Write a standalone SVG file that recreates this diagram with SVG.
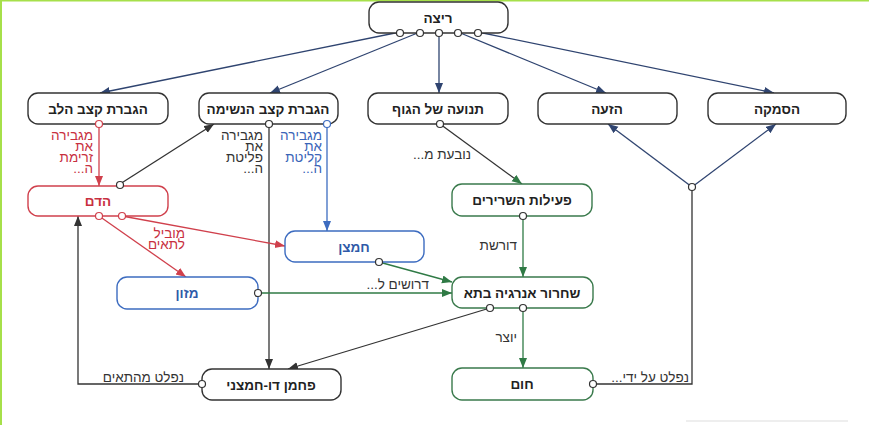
<svg xmlns="http://www.w3.org/2000/svg" width="869" height="425" viewBox="0 0 869 425">
<defs>
<style>
.node rect{fill:#fff;stroke-width:1.4}
.k rect{stroke:#333}
.r rect{stroke:#d0404c}
.b rect{stroke:#3d6cc0}
.g rect{stroke:#3a7a4c}
.node text{font-family:"Liberation Sans","DejaVu Sans",sans-serif;font-size:13.5px;font-weight:bold;text-anchor:middle;direction:rtl;fill:#222}
.r text{fill:#c83040}
.b text{fill:#2f5aa8}
.lbl{font-family:"Liberation Sans","DejaVu Sans",sans-serif;font-size:13.5px;direction:rtl;text-anchor:start;fill:#333}
.lr{fill:#c83040}.lb{fill:#3a64b8}
.c{fill:none;stroke-width:1.3}
.cn{stroke:#2f4470}.ck{stroke:#333}.cr{stroke:#d0404c}.cb{stroke:#3d6cc0}.cg{stroke:#2f7a45}
.p{fill:#fff;stroke-width:1.2}
</style>
<marker id="an" markerUnits="userSpaceOnUse" markerWidth="12" markerHeight="10" refX="10" refY="4" orient="auto"><path d="M0,0 L10,4 L0,8 z" fill="#2f4470"/></marker>
<marker id="ak" markerUnits="userSpaceOnUse" markerWidth="12" markerHeight="10" refX="10" refY="4" orient="auto"><path d="M0,0 L10,4 L0,8 z" fill="#333"/></marker>
<marker id="ar" markerUnits="userSpaceOnUse" markerWidth="12" markerHeight="10" refX="10" refY="4" orient="auto"><path d="M0,0 L10,4 L0,8 z" fill="#d0404c"/></marker>
<marker id="ab" markerUnits="userSpaceOnUse" markerWidth="12" markerHeight="10" refX="10" refY="4" orient="auto"><path d="M0,0 L10,4 L0,8 z" fill="#3d6cc0"/></marker>
<marker id="ag" markerUnits="userSpaceOnUse" markerWidth="12" markerHeight="10" refX="10" refY="4" orient="auto"><path d="M0,0 L10,4 L0,8 z" fill="#2f7a45"/></marker>
</defs>
<rect x="0" y="0" width="869" height="425" fill="#fff"/>
<rect x="0" y="0" width="2" height="425" fill="#a6e04a"/>
<rect x="0" y="0" width="869" height="1.5" fill="#a6e04a"/>
<line x1="686" y1="421" x2="848" y2="421" stroke="#ddd" stroke-width="1"/>

<g id="connectors">
<path class="c cn" d="M400,32 L100,93" marker-end="url(#an)"/>
<path class="c cn" d="M420,32 L270,93" marker-end="url(#an)"/>
<path class="c cn" d="M439,32 L439,93" marker-end="url(#an)"/>
<path class="c cn" d="M458,32 L606,93" marker-end="url(#an)"/>
<path class="c cn" d="M478,32 L774,93" marker-end="url(#an)"/>
<path class="c cn" d="M692,187 L608,124" marker-end="url(#an)"/>
<path class="c cn" d="M692,187 L776,124" marker-end="url(#an)"/>
<path class="c ck" d="M692,187 L692,384 L593,384"/>
<path class="c cr" d="M99,124 L99,186" marker-end="url(#ar)"/>
<path class="c ck" d="M120,184 L214,124" marker-end="url(#ak)"/>
<path class="c ck" d="M269,124 L269,369" marker-end="url(#ak)"/>
<path class="c cb" d="M327,124 L327,231" marker-end="url(#ab)"/>
<path class="c ck" d="M440,124 L522,184" marker-end="url(#ag)"/>
<path class="c cg" d="M523,216 L523,277" marker-end="url(#ag)"/>
<path class="c cg" d="M523,308 L523,368" marker-end="url(#ag)"/>
<path class="c ck" d="M490,308 L288,369" marker-end="url(#ak)"/>
<path class="c cg" d="M379,262 L452,282" marker-end="url(#ag)"/>
<path class="c cg" d="M258,293 L452,293" marker-end="url(#ag)"/>
<path class="c cr" d="M122,216 L285,246" marker-end="url(#ar)"/>
<path class="c cr" d="M99,216 L186,277" marker-end="url(#ar)"/>
<path class="c ck" d="M202,384 L78,384 L78,216" marker-end="url(#ak)"/>
<text class="lbl lr" x="93" y="139.5">מגבירה</text>
<text class="lbl lr" x="93" y="150.5">את</text>
<text class="lbl lr" x="93" y="161.5">זרימת</text>
<text class="lbl lr" x="93" y="172.5">ה...</text>
<text class="lbl" x="263" y="139.5">מגבירה</text>
<text class="lbl" x="263" y="150.5">את</text>
<text class="lbl" x="263" y="161.5">פליטת</text>
<text class="lbl" x="263" y="172.5">ה...</text>
<text class="lbl lb" x="322" y="139.5">מגבירה</text>
<text class="lbl lb" x="322" y="150.5">את</text>
<text class="lbl lb" x="322" y="161.5">קליטת</text>
<text class="lbl lb" x="322" y="172.5">ה...</text>
<text class="lbl" x="471" y="158.5">נובעת מ...</text>
<text class="lbl" x="517" y="249.5">דורשת</text>
<text class="lbl" x="517" y="341.5">יוצר</text>
<text class="lbl" x="429" y="288.5">דרושים ל...</text>
<text class="lbl lr" x="185" y="237.5">מוביל</text>
<text class="lbl lr" x="185" y="248.5">לתאים</text>
<text class="lbl" x="184" y="381.5">נפלט מהתאים</text>
<text class="lbl" x="689" y="381.5">נפלט על ידי...</text>
</g>

<g id="n-ritza" class="node k"><rect x="369" y="2" width="139" height="31" rx="10"/><text x="438" y="22.5">ריצה</text>
<circle class="p" cx="400" cy="33" r="3.5" stroke="#333"/><circle class="p" cx="420" cy="33" r="3.5" stroke="#333"/><circle class="p" cx="439" cy="33" r="3.5" stroke="#333"/><circle class="p" cx="458" cy="33" r="3.5" stroke="#333"/><circle class="p" cx="478" cy="33" r="3.5" stroke="#333"/></g>
<g id="n-lev" class="node k"><rect x="28" y="93" width="140" height="31" rx="10"/><text x="98" y="113.5">הגברת קצב הלב</text><circle class="p" cx="99" cy="124" r="3.5" stroke="#d0404c"/></g>
<g id="n-neshima" class="node k"><rect x="199" y="93" width="139" height="31" rx="10"/><text x="268" y="113.5">הגברת קצב הנשימה</text><circle class="p" cx="269" cy="124" r="3.5" stroke="#333"/><circle class="p" cx="327" cy="124" r="3.5" stroke="#3d6cc0"/></g>
<g id="n-tnua" class="node k"><rect x="368" y="93" width="140" height="31" rx="10"/><text x="438" y="113.5">תנועה של הגוף</text><circle class="p" cx="440" cy="124" r="3.5" stroke="#333"/></g>
<g id="n-hazaa" class="node k"><rect x="538" y="93" width="139" height="31" rx="10"/><text x="607" y="113.5">הזעה</text></g>
<g id="n-hasmaka" class="node k"><rect x="708" y="93" width="138" height="31" rx="10"/><text x="777" y="113.5">הסמקה</text></g>
<g id="n-junction"><circle class="p" cx="692" cy="187" r="3.5" stroke="#333"/></g>
<g id="n-dam" class="node r"><rect x="28" y="186" width="140" height="30" rx="10"/><text x="98" y="205.5">הדם</text><circle class="p" cx="120" cy="185" r="3.5" stroke="#333"/><circle class="p" cx="99" cy="216" r="3.5" stroke="#d0404c"/><circle class="p" cx="122" cy="216" r="3.5" stroke="#d0404c"/></g>
<g id="n-shririm" class="node g"><rect x="452" y="184" width="140" height="32" rx="10"/><text x="522" y="204.5">פעילות השרירים</text><circle class="p" cx="523" cy="216" r="3.5" stroke="#333"/></g>
<g id="n-hamtzan" class="node b"><rect x="285" y="231" width="139" height="31" rx="10"/><text x="354" y="251.5">חמצן</text><circle class="p" cx="379" cy="262" r="3.5" stroke="#333"/></g>
<g id="n-mazon" class="node b"><rect x="117" y="277" width="141" height="32" rx="10"/><text x="187" y="297.5">מזון</text><circle class="p" cx="258" cy="293" r="3.5" stroke="#333"/></g>
<g id="n-shihrur" class="node g"><rect x="452" y="277" width="141" height="31" rx="10"/><text x="522" y="297.5">שחרור אנרגיה בתא</text><circle class="p" cx="490" cy="308" r="3.5" stroke="#333"/><circle class="p" cx="523" cy="308" r="3.5" stroke="#333"/></g>
<g id="n-co2" class="node k"><rect x="202" y="369" width="139" height="31" rx="10"/><text x="271" y="389.5">פחמן דו-חמצני</text><circle class="p" cx="202" cy="384" r="3.5" stroke="#333"/></g>
<g id="n-hom" class="node g"><rect x="452" y="368" width="141" height="32" rx="10"/><text x="522" y="388.5">חום</text><circle class="p" cx="593" cy="384" r="3.5" stroke="#333"/></g>
</svg>
